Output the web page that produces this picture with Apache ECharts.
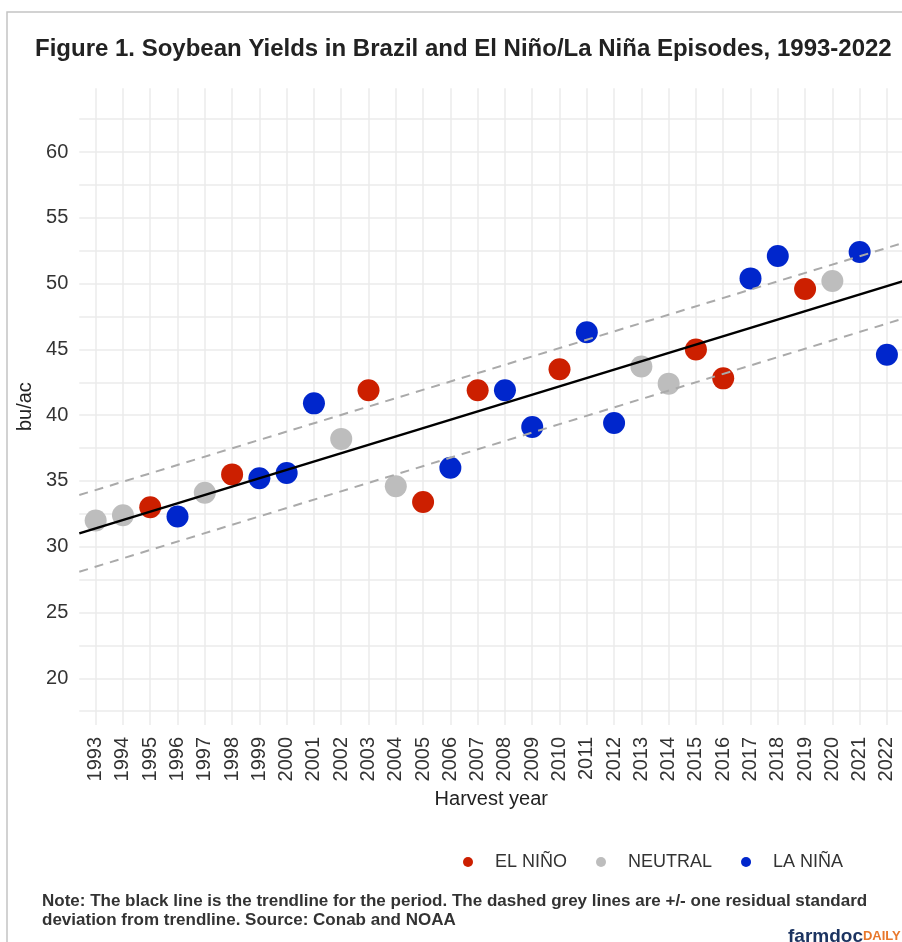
<!DOCTYPE html>
<html>
<head>
    <meta charset="utf-8">
    <style>
        html, body { margin: 0; padding: 0; background: #fff; }
        #container { width: 902px; height: 942px; }
    </style>
</head>
<body>
    <div id="container"></div>
    <script src="https://cdn.jsdelivr.net/npm/echarts@6/dist/echarts.min.js"></script>
    <script type="text/javascript">

        // harvest years and yields (bu/ac)
        var years = [1993, 1994, 1995, 1996, 1997, 1998, 1999, 2000, 2001, 2002,
            2003, 2004, 2005, 2006, 2007, 2008, 2009, 2010, 2011, 2012,
            2013, 2014, 2015, 2016, 2017, 2018, 2019, 2020, 2021, 2022];
        var yields = [32.0, 32.4, 33.0, 32.3, 34.1, 35.5, 35.2, 35.6, 40.9, 38.2,
            41.9, 34.6, 33.4, 36.0, 41.9, 41.9, 39.1, 43.5, 46.3, 39.4,
            43.7, 42.4, 45.0, 42.8, 50.4, 52.1, 49.6, 50.2, 52.4, 44.6];
        // E = El Niño, N = neutral, L = La Niña
        var episodes = ['N', 'N', 'E', 'L', 'N', 'E', 'L', 'L', 'L', 'N',
            'E', 'N', 'E', 'L', 'E', 'L', 'L', 'E', 'L', 'L',
            'N', 'N', 'E', 'E', 'L', 'L', 'E', 'N', 'L', 'L'];

        // trendline and +/- one residual sd, end points at the panel edges
        var lineX = [1992.4, 2022.6];
        var trend = [31.02, 50.19];
        var upper = [33.93, 53.10];
        var lower = [28.10, 47.35];

        var yLabels = [20, 25, 30, 35, 40, 45, 50, 55, 60];
        var yGrid = [17.5, 20, 22.5, 25, 27.5, 30, 32.5, 35, 37.5, 40, 42.5, 45,
            47.5, 50, 52.5, 55, 57.5, 60, 62.5];

        var groups = [
            { key: 'E', name: 'EL NIÑO', color: '#cc1f00' },
            { key: 'N', name: 'NEUTRAL', color: '#bdbdbd' },
            { key: 'L', name: 'LA NIÑA', color: '#0026cc' }
        ];

        function pts(key) {
            var out = [];
            for (let i = 0; i < years.length; i++) {
                if (episodes[i] === key) out.push([years[i], yields[i]]);
            }
            return out;
        }
        function seg(vals) {
            return [[lineX[0], vals[0]], [lineX[1], vals[1]]];
        }

        var dom = document.getElementById('container');
        var myChart = echarts.init(dom, null, { renderer: 'canvas' });

        var fontFam = '"Liberation Sans", Arial, sans-serif';
        var series = [];
        groups.forEach(function (g) {
            series.push({
                name: g.name,
                type: 'scatter',
                symbolSize: 22,
                itemStyle: { color: g.color, opacity: 1 },
                data: pts(g.key),
                z: 2
            });
        });
        [upper, lower].forEach(function (v) {
            series.push({
                type: 'line',
                data: seg(v),
                symbol: 'none',
                silent: true,
                lineStyle: { color: '#aaaaaa', width: 2, type: [9, 7] },
                z: 3
            });
        });
        series.push({
            type: 'line',
            data: seg(trend),
            symbol: 'none',
            silent: true,
            lineStyle: { color: '#000', width: 2.5 },
            z: 4
        });

        var option = {
            animation: false,
            backgroundColor: '#fff',
            title: [
                {
                    text: 'Figure 1. Soybean Yields in Brazil and El Niño/La Niña Episodes, 1993-2022',
                    left: 35,
                    top: 37,
                    padding: 0,
                    textStyle: {
                        fontFamily: fontFam,
                        fontWeight: 'bold',
                        fontSize: 24,
                        color: '#222'
                    }
                },
                {
                    text: 'Note: The black line is the trendline for the period. The dashed grey lines are +/- one residual standard\ndeviation from trendline. Source: Conab and NOAA',
                    left: 42,
                    top: 892,
                    padding: 0,
                    textStyle: {
                        fontFamily: fontFam,
                        fontWeight: 'bold',
                        fontSize: 17,
                        lineHeight: 19,
                        color: '#333'
                    }
                }
            ],
            legend: {
                left: 463,
                top: 853,
                padding: 0,
                itemWidth: 10,
                itemHeight: 10,
                itemGap: 29,
                icon: 'circle',
                data: groups.map(function (g) { return g.name; }),
                textStyle: {
                    fontFamily: fontFam,
                    fontSize: 18,
                    color: '#333',
                    padding: [0, 0, 0, 17]
                }
            },
            grid: {
                left: 79.3,
                top: 88.3,
                width: 824,
                height: 636.7,
                outerBoundsMode: 'none'
            },
            xAxis: {
                type: 'value',
                min: lineX[0],
                max: lineX[1],
                name: 'Harvest year',
                nameLocation: 'middle',
                nameGap: 62,
                nameTextStyle: { fontFamily: fontFam, fontSize: 20, color: '#222' },
                axisLine: { show: false },
                axisTick: { show: false, customValues: years },
                axisLabel: {
                    customValues: years,
                    rotate: 90,
                    margin: 12,
                    fontFamily: fontFam,
                    fontSize: 20,
                    color: '#333',
                    formatter: function (v) { return String(v); }
                },
                splitLine: { show: true, lineStyle: { color: '#ebebeb', width: 1.5 } }
            },
            yAxis: {
                type: 'value',
                min: 16.45,
                max: 64.85,
                name: 'bu/ac',
                nameLocation: 'middle',
                nameGap: 37,
                nameTextStyle: { fontFamily: fontFam, fontSize: 20, color: '#222' },
                axisLine: { show: false },
                axisTick: { show: false, customValues: yGrid },
                axisLabel: {
                    customValues: yLabels,
                    margin: 11,
                    fontFamily: fontFam,
                    fontSize: 20,
                    color: '#333'
                },
                splitLine: { show: true, lineStyle: { color: '#ebebeb', width: 1.5 } }
            },
            graphic: [
                {
                    type: 'rect',
                    shape: { x: 7, y: 12, width: 1000, height: 1000 },
                    style: { fill: 'none', stroke: '#c4c4c4', lineWidth: 1.5 },
                    silent: true,
                    z: -1
                },
                {
                    type: 'text',
                    left: 788,
                    top: 927,
                    style: {
                        text: '{a|farmdoc}{b|DAILY}',
                        rich: {
                            a: { fontFamily: fontFam, fontWeight: 'bold', fontSize: 19, fill: '#1c3461' },
                            b: { fontFamily: fontFam, fontWeight: 'bold', fontSize: 13, fill: '#e8782c' }
                        }
                    }
                }
            ],
            series: series
        };

        myChart.setOption(option);
        window.addEventListener('resize', myChart.resize);
    </script>
</body>
</html>
